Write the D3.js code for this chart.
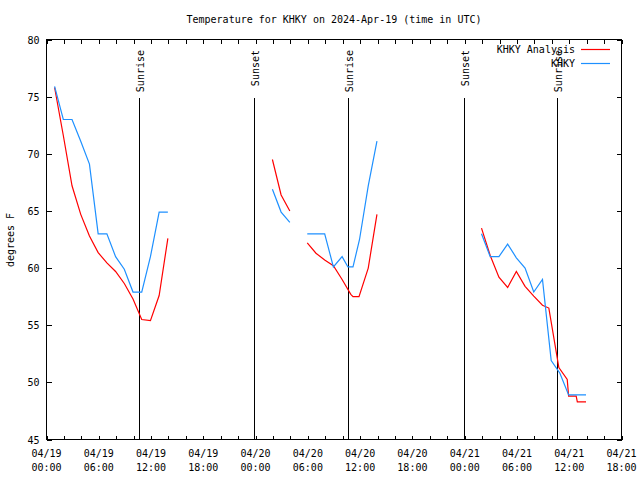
<!DOCTYPE html>
<html><head><meta charset="utf-8">
<script src="https://cdn.jsdelivr.net/npm/d3@7"></script>
<style>
body{margin:0;background:#fff}
text{font-family:"DejaVu Sans Mono","Liberation Mono",monospace;font-size:10px;fill:#000}
</style>
</head><body>
<svg id="chart" width="640" height="480"></svg>
<script>
// Hours since 2024-04-19 00:00 UTC; null temperature = gap in the record
const khkyHours = [0.93,1.93,2.93,3.93,4.93,5.93,6.93,7.93,8.93,9.93,10.93,11.93,12.93,13.93,14.93,
  25.93,26.93,27.93,28.93,
  29.93,30.93,31.93,32.93,33.93,34.6,35.18,35.93,36.93,37.93,38.93,
  49.93,50.93,51.93,52.93,53.93,54.93,55.93,56.93,57.93,58.93,59.93,60.93,61.93];
const khkyTemps = [75.9,73.0,73.0,71.1,69.1,63.0,63.0,61.0,59.9,57.9,57.9,61.0,64.9,64.9,null,
  66.9,64.9,64.0,null,
  63.0,63.0,63.0,60.1,61.0,60.1,60.1,62.5,67.2,71.1,null,
  63.0,61.0,61.0,62.1,60.9,60.0,57.9,59.0,51.9,50.8,48.9,48.9,48.9];

const analysisHours = [0.93,1.93,2.93,3.93,4.93,5.93,6.93,7.93,8.93,9.93,10.93,11.93,12.93,13.93,14.93,
  25.93,26.93,27.93,28.93,
  29.93,30.93,31.93,32.93,33.93,34.93,35.18,35.87,36.93,37.93,38.93,
  49.93,50.93,51.93,52.93,53.93,54.93,55.93,56.93,57.66,58.81,59.77,59.93,60.8,60.93,61.93];
const analysisTemps = [75.8,71.6,67.2,64.7,62.8,61.35,60.45,59.7,58.65,57.3,55.5,55.4,57.6,62.6,null,
  69.5,66.4,65.0,null,
  62.2,61.3,60.7,60.2,59.0,57.7,57.5,57.5,60.0,64.7,null,
  63.5,61.1,59.2,58.3,59.7,58.4,57.55,56.75,56.5,51.3,50.25,48.8,48.8,48.3,48.3];

const sunHours  = [10.72, 23.92, 34.72, 47.93, 58.69];
const sunLabels = ["Sunrise","Sunset","Sunrise","Sunset","Sunrise"];

const xLabelHours = [0,6,12,18,24,30,36,42,48,54,60,66];
const xLabelDates = ["04/19","04/19","04/19","04/19","04/20","04/20","04/20","04/20","04/21","04/21","04/21","04/21"];
const xLabelTimes = ["00:00","06:00","12:00","18:00","00:00","06:00","12:00","18:00","00:00","06:00","12:00","18:00"];
const xMinorHours = d3.range(0, 67, 2);
const yTicks = [45,50,55,60,65,70,75,80];

const seriesNames = ["KHKY Analysis","KHKY"];
const seriesColors = ["#ff0000","#1e90ff"];

const svg = d3.select("#chart");
const L = 46.5, R = 621.5, T = 39.5, B = 439.5;
const x = d3.scaleLinear().domain([0,66]).range([L,R]);
const y = d3.scaleLinear().domain([45,80]).range([B,T]);

// title
svg.append("text").attr("x",334).attr("y",19).attr("text-anchor","middle")
  .attr("dominant-baseline","central").text("Temperature for KHKY on 2024-Apr-19 (time in UTC)");

// axes (ticks inward, gnuplot-like)
const gx = svg.append("g").attr("transform",`translate(0,${B})`)
  .call(d3.axisBottom(x).tickValues(xMinorHours).tickSize(-4).tickFormat(""));
const gxt = svg.append("g").attr("transform",`translate(0,${T})`)
  .call(d3.axisTop(x).tickValues(xMinorHours).tickSize(-4).tickFormat(""));
const gy = svg.append("g").attr("transform",`translate(${L},0)`)
  .call(d3.axisLeft(y).tickValues(yTicks).tickSize(-5).tickPadding(7).tickFormat(d3.format("d")));
const gyr = svg.append("g").attr("transform",`translate(${R},0)`)
  .call(d3.axisRight(y).tickValues(yTicks).tickSize(-5).tickFormat(""));
[gx,gxt,gy,gyr].forEach(g=>{
  g.select(".domain").remove();
  g.selectAll("line").attr("stroke","#000").attr("shape-rendering","crispEdges");
});
gy.selectAll("text").attr("font-family",null).attr("font-size",null).attr("dy",null)
  .attr("dominant-baseline","central").attr("fill","#000");

// x labels (two lines)
const xl = svg.append("g");
xLabelHours.forEach((h,i)=>{
  const t = xl.append("text").attr("x",x(h)).attr("text-anchor","middle");
  t.append("tspan").attr("x",x(h)).attr("y",457).text(xLabelDates[i]);
  t.append("tspan").attr("x",x(h)).attr("y",471).text(xLabelTimes[i]);
});

// y label
svg.append("text").attr("transform","translate(10,240) rotate(-90)")
  .attr("text-anchor","middle").attr("dominant-baseline","central").text("degrees F");

// border
svg.append("rect").attr("x",L).attr("y",T).attr("width",R-L).attr("height",B-T)
  .attr("fill","none").attr("stroke","#000").attr("shape-rendering","crispEdges");

// sunrise / sunset markers
sunHours.forEach((h,i)=>{
  svg.append("line").attr("x1",x(h)).attr("x2",x(h)).attr("y1",98).attr("y2",B)
    .attr("stroke","#000").attr("shape-rendering","crispEdges");
  svg.append("text").attr("transform",`translate(${x(h)+1},50) rotate(-90)`)
    .attr("text-anchor","end").attr("dominant-baseline","central").text(sunLabels[i]);
});

// data lines
const line = d3.line().defined(d=>d[1]!=null).x(d=>x(d[0])).y(d=>y(d[1]));
const analysis = analysisHours.map((h,i)=>[h,analysisTemps[i]]);
const khky = khkyHours.map((h,i)=>[h,khkyTemps[i]]);
[analysis, khky].forEach((data,i)=>{
  svg.append("path").datum(data).attr("d",line).attr("fill","none")
    .attr("stroke",seriesColors[i]).attr("stroke-width",1.2);
});

// legend
seriesNames.forEach((name,i)=>{
  const yy = 49 + i*14;
  svg.append("text").attr("x",575).attr("y",yy).attr("text-anchor","end")
    .attr("dominant-baseline","central").text(name);
  svg.append("line").attr("x1",581).attr("x2",610).attr("y1",yy+0.5).attr("y2",yy+0.5)
    .attr("stroke",seriesColors[i]).attr("stroke-width",1.2);
});
</script>
</body></html>
